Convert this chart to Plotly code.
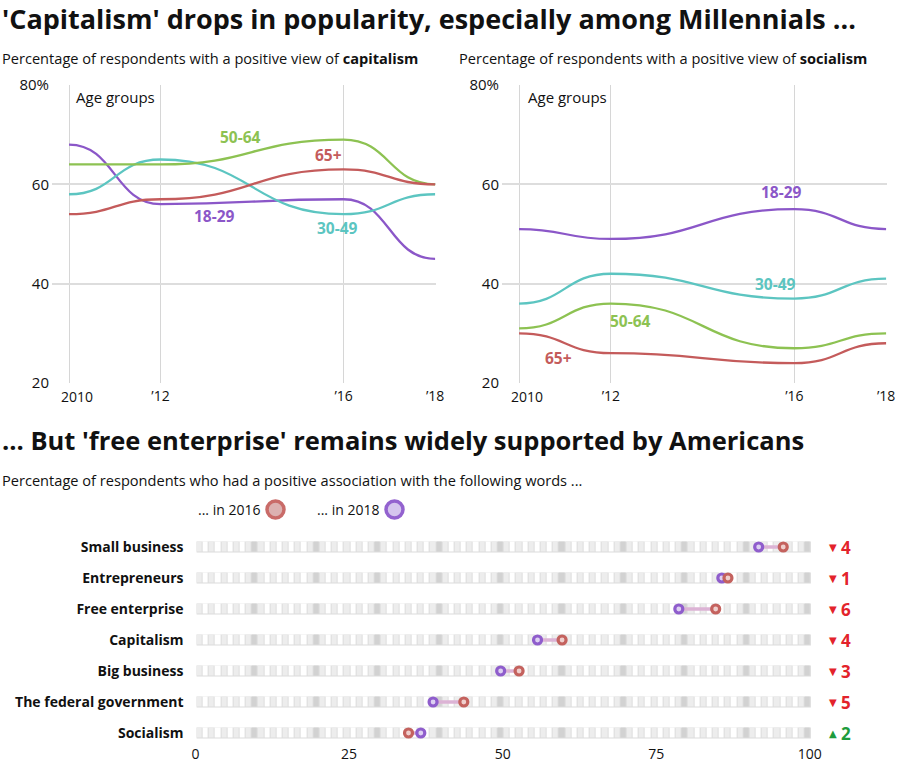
import plotly.graph_objects as go

W, H = 900, 766

# ---------------- data ----------------
years = [2010, 2012, 2016, 2018]
year_labels = ["2010", "\u201912", "\u201916", "\u201918"]
age_groups = ["18-29", "30-49", "50-64", "65+"]

cap_18_29 = [68, 56, 57, 45]
cap_30_49 = [58, 65, 54, 58]
cap_50_64 = [64, 64, 69, 60]
cap_65 = [54, 57, 63, 60]

soc_18_29 = [51, 49, 55, 51]
soc_30_49 = [36, 42, 37, 41]
soc_50_64 = [31, 36, 27, 30]
soc_65 = [30, 26, 24, 28]

y_ticks = [20, 40, 60, 80]
y_tick_labels = ["20", "40", "60", "80%"]

words = ["Small business", "Entrepreneurs", "Free enterprise", "Capitalism",
         "Big business", "The federal government", "Socialism"]
pos_2016 = [96, 87, 85, 60, 53, 44, 35]
pos_2018 = [92, 86, 79, 56, 50, 39, 37]
x_ticks = [0, 25, 50, 75, 100]

# ---------------- styles ----------------
FONT = "Open Sans"
INK = "#111111"
COL = {"18-29": "#8b57c8", "30-49": "#5cc5c1", "50-64": "#8dc252", "65+": "#c45b5b"}
RED_RING, RED_IN = "#c4625e", "#efcfcd"
PUR_RING, PUR_IN = "#8f5dcc", "#ddd0f2"
DOWN, UP = "#e3232b", "#1e9c3c"


def px(x):
    return x / W


def py(y):
    return 1 - y / H


fig = go.Figure()
shapes = []
annotations = []

cap_series = {"18-29": cap_18_29, "30-49": cap_30_49, "50-64": cap_50_64, "65+": cap_65}
soc_series = {"18-29": soc_18_29, "30-49": soc_30_49, "50-64": soc_50_64, "65+": soc_65}

cap_label_pos = {"50-64": (2013.74, 69.6), "65+": (2015.66, 65.9),
                 "18-29": (2013.17, 53.6), "30-49": (2015.86, 51.2)}
soc_label_pos = {"18-29": (2015.73, 58.5), "30-49": (2015.6, 40.0),
                 "50-64": (2012.42, 32.5), "65+": (2010.85, 25.0)}


def bump_path(xs, ys):
    d = f"M {xs[0]},{ys[0]}"
    for i in range(1, len(xs)):
        xm = (xs[i - 1] + xs[i]) / 2
        d += f" C {xm},{ys[i-1]} {xm},{ys[i]} {xs[i]},{ys[i]}"
    return d


for series, xr, yr, lpos, first_px in [(cap_series, "x", "y", cap_label_pos, 76.5),
                                       (soc_series, "x2", "y2", soc_label_pos, 527)]:
    for g in age_groups:
        vals = series[g]
        fig.add_trace(go.Scatter(x=years, y=vals, xaxis=xr, yaxis=yr, mode="markers",
                                 marker=dict(size=8, color=COL[g], opacity=0),
                                 name=g, showlegend=False,
                                 hovertemplate=g + ": %{y}%<extra></extra>"))
        shapes.append(dict(type="path", path=bump_path(years, vals), xref=xr, yref=yr,
                           line=dict(color=COL[g], width=2.3), layer="above"))
        lx, ly = lpos[g]
        annotations.append(dict(x=lx, y=ly, xref=xr, yref=yr, text=f"<b>{g}</b>",
                                showarrow=False, font=dict(family=FONT, size=15.5, color=COL[g])))
    # first year label sits slightly right of its gridline
    annotations.append(dict(x=px(first_px), y=py(396), xref="paper", yref="paper",
                            text=year_labels[0], showarrow=False, xanchor="center",
                            yanchor="middle", font=dict(family=FONT, size=14, color=INK)))

# ---------------- bottom dot plot ----------------
z = []
for r in range(len(words)):
    row = []
    for k in range(1, 101):
        row.append(2 if k % 10 == 0 else (1 if k % 2 == 1 else 0))
    z.append(row)
fig.add_trace(go.Heatmap(z=z, x=list(range(1, 101)), y=list(range(len(words))),
                         xaxis="x3", yaxis="y3", xgap=1, ygap=21, showscale=False,
                         zmin=0, zmax=2, hoverinfo="skip",
                         colorscale=[[0, "#ffffff"], [0.5, "#ededed"], [1, "#d2d2d2"]]))
for i in range(len(words)):
    shapes.append(dict(type="rect", xref="x3", yref="y3", x0=0.5, x1=100.5,
                       y0=i - 0.175, y1=i + 0.175, fillcolor="#dcdcdc",
                       line=dict(width=0), layer="below"))

lx, ly = [], []
for i in range(len(words)):
    lx += [pos_2018[i], pos_2016[i], None]
    ly += [i, i, None]
fig.add_trace(go.Scatter(x=lx, y=ly, xaxis="x3", yaxis="y3", mode="lines",
                         line=dict(color="#dcb3d5", width=3.5), hoverinfo="skip",
                         showlegend=False))
fig.add_trace(go.Scatter(x=pos_2018, y=list(range(len(words))), xaxis="x3", yaxis="y3",
                         mode="markers", name="2018", showlegend=False,
                         marker=dict(size=8, color=PUR_IN, line=dict(color=PUR_RING, width=3.2)),
                         text=words, hovertemplate="%{text} 2018: %{x}%<extra></extra>"))
fig.add_trace(go.Scatter(x=pos_2016, y=list(range(len(words))), xaxis="x3", yaxis="y3",
                         mode="markers", name="2016", showlegend=False,
                         marker=dict(size=8, color=RED_IN, line=dict(color=RED_RING, width=3.2)),
                         text=words, hovertemplate="%{text} 2016: %{x}%<extra></extra>"))

for i in range(len(words)):
    ch = pos_2018[i] - pos_2016[i]
    col = DOWN if ch < 0 else UP
    sym = "\u25bc" if ch < 0 else "\u25b2"
    annotations.append(dict(x=px(838.5), y=i, xref="paper", yref="y3", text=sym,
                            showarrow=False, font=dict(family="DejaVu Sans", size=10, color=col)))
    annotations.append(dict(x=px(839), y=i, xref="paper", yref="y3", text=f"<b>{abs(ch)}</b>",
                            xanchor="left", showarrow=False,
                            font=dict(family=FONT, size=17, color=col)))

# ---------------- titles / texts ----------------
def txt(x, y, text, size, anchor="left", bold=False):
    return dict(x=px(x), y=py(y), xref="paper", yref="paper", xanchor=anchor, yanchor="middle",
                text=f"<b>{text}</b>" if bold else text, showarrow=False,
                font=dict(family=FONT, size=size, color=INK))


annotations += [
    txt(0, 18, "'Capitalism' drops in popularity, especially among Millennials ...", 27, bold=True),
    txt(0, 58, "Percentage of respondents with a positive view of <b>capitalism</b>", 14.6),
    txt(457, 58, "Percentage of respondents with a positive view of <b>socialism</b>", 14.6),
    txt(74, 97, "Age groups", 15),
    txt(526, 97, "Age groups", 15),
    txt(0, 440, "... But 'free enterprise' remains widely supported by Americans", 25.5, bold=True),
    txt(0, 480, "Percentage of respondents who had a positive association with the following words ...", 14.6),
    txt(262, 509, "... in 2016", 14, anchor="right"),
    txt(381, 509, "... in 2018", 14, anchor="right"),
]
shapes.append(dict(type="circle", xref="paper", yref="paper", x0=px(267), x1=px(284),
                   y0=py(518), y1=py(501), fillcolor="#dcb1b0", line=dict(color="#c96b68", width=3.5)))
shapes.append(dict(type="circle", xref="paper", yref="paper", x0=px(386), x1=px(403),
                   y0=py(518), y1=py(501), fillcolor="#d5c5ee", line=dict(color="#9362cf", width=3.5)))

xcommon = dict(range=[2009.628, 2018.02], tickvals=years, ticktext=[""] + year_labels[1:],
               showgrid=True, gridcolor="#d6d6d6", gridwidth=1, zeroline=False,
               showline=False, ticks="", tickfont=dict(family=FONT, size=14, color=INK),
               ticklabelstandoff=3, fixedrange=True, automargin=False)
ycommon = dict(range=[20, 80], tickvals=y_ticks, ticktext=y_tick_labels,
               showgrid=True, gridcolor="#dddddd", gridwidth=1.5, zeroline=False,
               showline=False, ticks="", tickfont=dict(family=FONT, size=15, color=INK),
               ticklabelstandoff=2, domain=[py(383), py(85)], fixedrange=True, automargin=False)

fig.update_layout(
    width=W, height=H, margin=dict(l=0, r=0, t=0, b=0, pad=0, autoexpand=False),
    paper_bgcolor="white", plot_bgcolor="white", showlegend=False,
    xaxis=dict(domain=[px(52), px(436)], anchor="y", **xcommon),
    yaxis=dict(anchor="x", **ycommon),
    xaxis2=dict(domain=[px(502), px(887)], anchor="y2", **xcommon),
    yaxis2=dict(anchor="x2", **ycommon),
    xaxis3=dict(domain=[px(193.5), px(811.5)], anchor="y3", range=[0, 100.6],
                tickvals=x_ticks, showgrid=False, zeroline=False, showline=False,
                ticks="", tickfont=dict(family=FONT, size=14, color=INK),
                ticklabelstandoff=2, ticklabelshift=2, fixedrange=True, automargin=False),
    yaxis3=dict(domain=[py(742.3), py(531.5)], anchor="x3", range=[6.3, -0.5],
                tickvals=list(range(len(words))), ticktext=[f"<b>{w}</b>" for w in words],
                showgrid=False, zeroline=False, showline=False, ticks="",
                tickfont=dict(family=FONT, size=14, color=INK),
                ticklabelstandoff=9, fixedrange=True, automargin=False),
    shapes=shapes, annotations=annotations,
)

fig.write_html("out.html", config={"displayModeBar": False},
               post_script="document.body.style.margin='0px';document.body.style.overflow='hidden';")
